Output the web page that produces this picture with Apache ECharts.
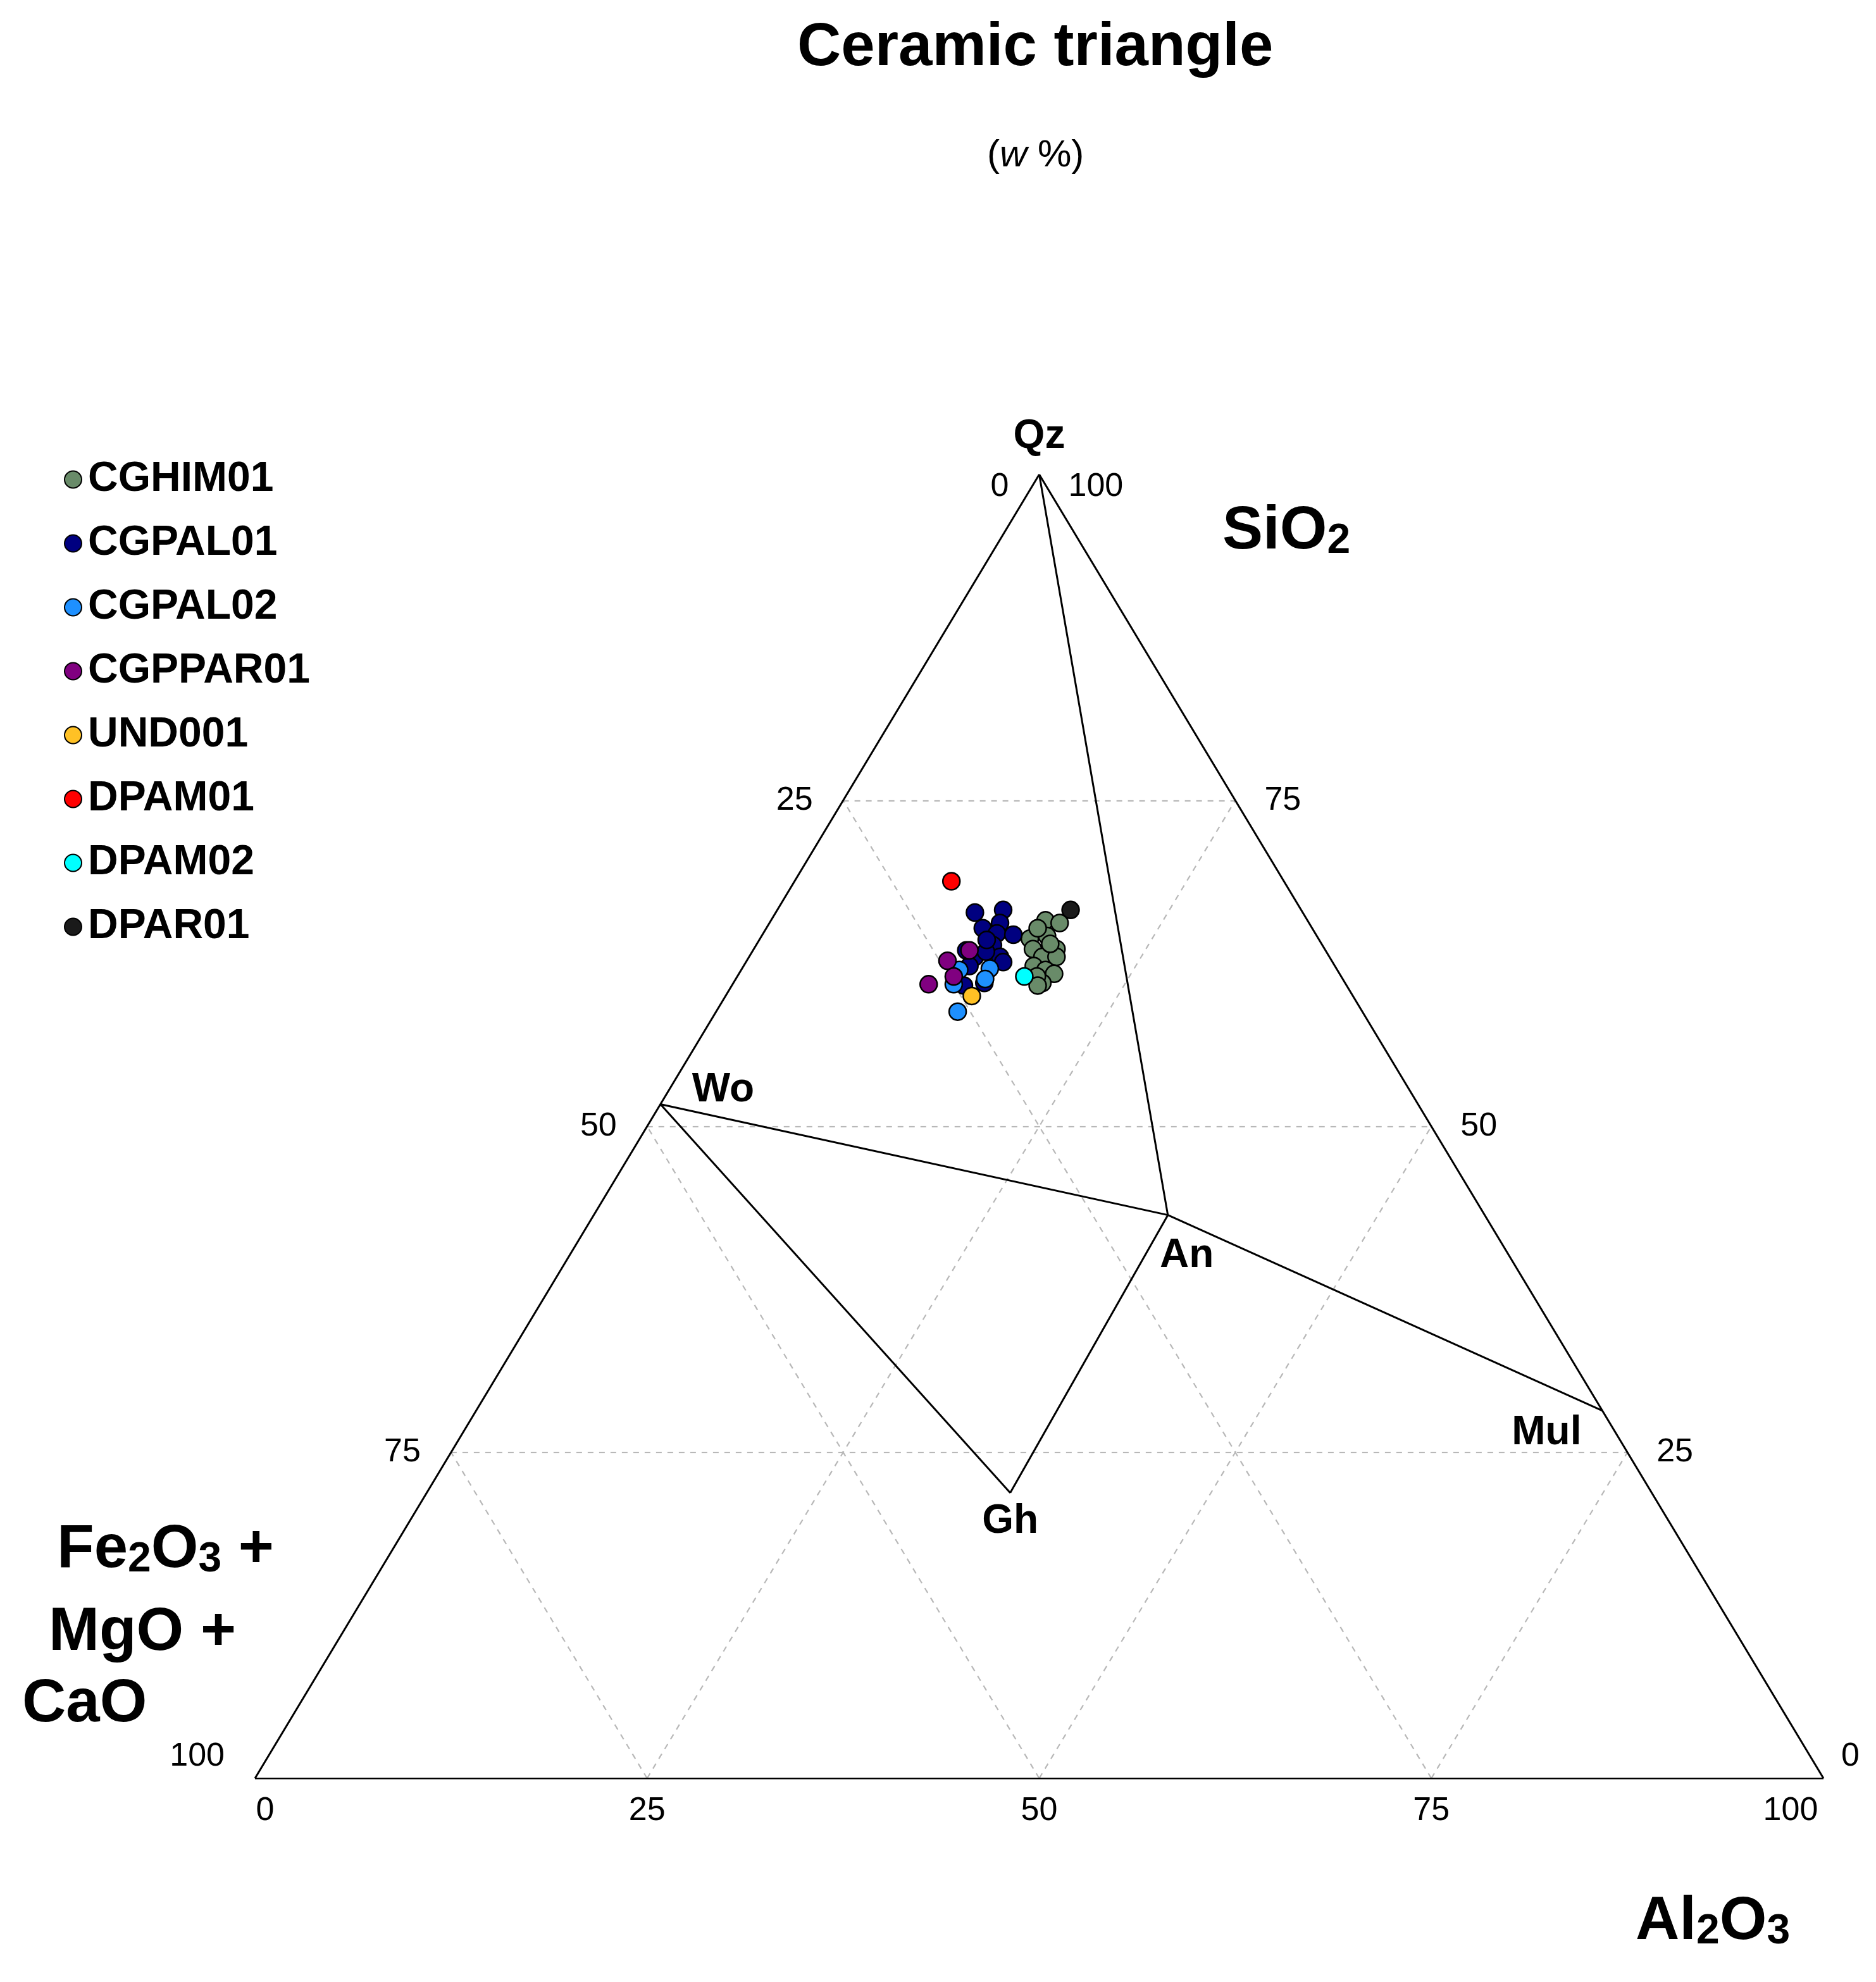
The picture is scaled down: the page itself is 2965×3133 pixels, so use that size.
<!DOCTYPE html>
<html>
<head>
<meta charset="utf-8">
<title>Ceramic triangle</title>
<script src="https://cdn.jsdelivr.net/npm/echarts@6/dist/echarts.min.js"></script>
<style>
  html, body { margin: 0; padding: 0; background: #fff; }
  #chart { width: 2965px; height: 3133px; }
</style>
</head>
<body>
<div id="chart"></div>
<script>
// sample groups, in legend order
var groups = ['CGHIM01', 'CGPAL01', 'CGPAL02', 'CGPPAR01', 'UND001', 'DPAM01', 'DPAM02', 'DPAR01'];
var groupColors = ['#698B69', '#000080', '#1E90FF', '#800080', '#FFC125', '#FF0000', '#00FFFF', '#1A1A1A'];

// compositions in w %: [SiO2, Al2O3, Fe2O3 + MgO + CaO]
var CGHIM01 = [
  [65.8, 17.5, 16.7], [65.6, 18.5, 15.9], [64.4, 17.2, 18.4], [64.6, 18.2, 17.2],
  [63.6, 19.3, 17.1], [63.6, 17.8, 18.6], [63.0, 18.7, 18.3], [63.0, 19.6, 17.4],
  [62.3, 18.5, 19.2], [62.0, 19.4, 18.6], [61.7, 20.1, 18.2], [61.0, 19.7, 19.3],
  [61.5, 19.1, 19.4], [64.0, 18.7, 17.3], [65.2, 17.3, 17.5], [60.8, 19.5, 19.7]
];
var CGPAL01 = [
  [66.4, 12.7, 20.9], [66.6, 14.4, 19.0], [65.2, 13.8, 21.0], [65.6, 14.7, 19.7],
  [64.8, 14.9, 20.3], [64.7, 16.0, 19.3], [63.9, 15.1, 21.0], [63.0, 16.0, 21.0],
  [63.0, 14.4, 22.6], [62.3, 14.4, 23.3], [62.6, 16.4, 21.0], [63.4, 14.9, 21.7],
  [60.8, 14.8, 24.4], [61.0, 16.0, 23.0], [63.5, 13.6, 22.9], [64.3, 14.5, 21.2]
];
var CGPAL02 = [[58.8, 15.4, 25.8], [62.1, 15.8, 22.1], [61.3, 15.9, 22.8], [60.9, 14.1, 25.0], [62.0, 13.9, 24.1]];
var CGPPAR01 = [[63.5, 13.8, 22.7], [62.7, 12.8, 24.5], [61.5, 13.8, 24.7], [60.9, 12.5, 26.6]];
var UND001 = [[60.0, 15.7, 24.3]];
var DPAM01 = [[68.8, 10.0, 21.2]];
var DPAM02 = [[61.5, 18.3, 20.2]];
var DPAR01 = [[66.6, 18.7, 14.7]];
var groupData = [CGHIM01, CGPAL01, CGPAL02, CGPPAR01, UND001, DPAM01, DPAM02, DPAR01];

// reference phases (w %)
var mineralNames = ['Qz', 'Wo', 'An', 'Gh', 'Mul'];
var mineralSiO2 = [100, 51.7, 43.2, 21.9, 28.2];
var mineralAl2O3 = [0, 0, 36.6, 37.2, 71.8];
var phaseLinks = [['Qz', 'An'], ['Wo', 'An'], ['An', 'Mul'], ['Wo', 'Gh'], ['Gh', 'An']];

// ticks
var tickValues = [0, 25, 50, 75, 100];
var gridValues = [25, 50, 75];

var FONT = '"Liberation Sans", Arial, sans-serif';

// ternary -> cartesian (x = Al2O3 + SiO2/2, y = SiO2)
function toXY(si, al, fmc) {
  var s = si + al + fmc;
  si = si / s * 100;
  al = al / s * 100;
  return [al + si / 2, si];
}

function mineralXY(name) {
  var i = mineralNames.indexOf(name);
  return toXY(mineralSiO2[i], mineralAl2O3[i], 100 - mineralSiO2[i] - mineralAl2O3[i]);
}

// dashed grid
var gridLines = [];
gridValues.forEach(function (v) {
  gridLines.push({ coords: [toXY(v, 0, 100 - v), toXY(v, 100 - v, 0)] });
  gridLines.push({ coords: [toXY(0, v, 100 - v), toXY(100 - v, v, 0)] });
  gridLines.push({ coords: [toXY(0, 100 - v, v), toXY(100 - v, 0, v)] });
});

var edgeLines = [
  { coords: [toXY(100, 0, 0), toXY(0, 0, 100)] },
  { coords: [toXY(0, 0, 100), toXY(0, 100, 0)] },
  { coords: [toXY(0, 100, 0), toXY(100, 0, 0)] }
];

var phaseLines = phaseLinks.map(function (p) {
  return { coords: [mineralXY(p[0]), mineralXY(p[1])] };
});

// tick labels along the three sides
function tickLabel(v, pos, dist, off) {
  return {
    show: true, formatter: String(v), position: pos, distance: dist, offset: off,
    fontSize: 52, color: '#000', fontFamily: FONT, opacity: 1
  };
}
var leftTicks = tickValues.map(function (v) {
  var off = v === 0 ? [0, 20] : (v === 100 ? [0, -34] : [0, 0]);
  return { value: toXY(100 - v, 0, v), label: tickLabel(v, 'left', 48, off) };
});
var rightTicks = tickValues.map(function (v) {
  var off = v === 100 ? [0, 20] : (v === 0 ? [-18, -34] : [0, 0]);
  return { value: toXY(v, 100 - v, 0), label: tickLabel(v, 'right', 46, off) };
});
var bottomTicks = tickValues.map(function (v) {
  var off = v === 0 ? [16, 0] : (v === 100 ? [-52, 0] : [0, 0]);
  return { value: toXY(0, v, 100 - v), label: tickLabel(v, 'bottom', 26, off) };
});

var mineralLabel = {
  Qz: { position: 'top', distance: 28 },
  Wo: { position: 'right', distance: 50, offset: [0, -22] },
  An: { position: 'bottom', distance: 33, offset: [30, 0] },
  Gh: { position: 'bottom', distance: 14 },
  Mul: { position: 'left', distance: 33, offset: [0, 36] }
};
var mineralPoints = mineralNames.map(function (n) {
  var l = mineralLabel[n];
  return {
    value: mineralXY(n),
    label: {
      show: true, formatter: n, position: l.position, distance: l.distance, offset: l.offset || [0, 0],
      fontSize: 64, fontWeight: 'bold', color: '#000', fontFamily: FONT, opacity: 1
    }
  };
});

var series = [
  {
    type: 'lines', coordinateSystem: 'cartesian2d', silent: true, z: 1,
    lineStyle: { color: '#b8b8b8', width: 2.2, type: [9, 9], opacity: 1 },
    data: gridLines
  },
  {
    type: 'lines', coordinateSystem: 'cartesian2d', silent: true, z: 2,
    lineStyle: { color: '#000', width: 3, opacity: 1 },
    data: edgeLines.concat(phaseLines)
  },
  {
    type: 'scatter', symbolSize: 0, silent: true, z: 3,
    itemStyle: { opacity: 1 },
    data: mineralPoints.concat(leftTicks, rightTicks, bottomTicks)
  }
];

groups.forEach(function (g, i) {
  series.push({
    name: g,
    type: 'scatter',
    z: 5,
    symbol: 'circle',
    symbolSize: 27,
    itemStyle: { color: groupColors[i], borderColor: '#000', borderWidth: 2.5, opacity: 1 },
    data: groupData[i].map(function (c) { return toXY(c[0], c[1], c[2]); })
  });
});

var bigText = { fontSize: 96, fontWeight: 'bold', lineHeight: 96, fontFamily: FONT, color: '#000' };
var subText = { fontSize: 66, fontWeight: 'bold', lineHeight: 42, verticalAlign: 'bottom', fontFamily: FONT, color: '#000' };
function formulaTitle(text, left, top) {
  return {
    text: text, left: left, top: top, padding: 0,
    textStyle: Object.assign({}, bigText, { rich: { b: bigText, s: subText } })
  };
}

var chart = echarts.init(document.getElementById('chart'));
chart.setOption({
  backgroundColor: '#fff',
  animation: false,
  title: [
    { text: 'Ceramic triangle', left: 1260, top: 29, padding: 0, textStyle: bigText },
    {
      text: '({i|w} %)', left: 1560, top: 216, padding: 0,
      textStyle: {
        fontSize: 60, fontWeight: 'normal', lineHeight: 60, fontFamily: FONT, color: '#000',
        rich: { i: { fontSize: 60, fontStyle: 'italic', lineHeight: 60, fontFamily: FONT, color: '#000' } }
      }
    },
    formulaTitle('{b|SiO}{s|2}', 1932, 793),
    formulaTitle('{b|Al}{s|2}{b|O}{s|3}', 2585, 2991),
    formulaTitle('{b|Fe}{s|2}{b|O}{s|3}{b| +}', 90, 2403),
    formulaTitle('{b|MgO +}', 77, 2534),
    formulaTitle('{b|CaO}', 35, 2647)
  ],
  legend: {
    orient: 'vertical', left: 96, top: 718,
    itemWidth: 27, itemHeight: 27, itemGap: 31, icon: 'circle',
    textStyle: { fontSize: 66, fontWeight: 'bold', fontFamily: FONT, color: '#000', lineHeight: 70, padding: [0, 0, 0, 5] },
    data: groups
  },
  grid: { left: 403, top: 750, width: 2479, height: 2061 },
  xAxis: { type: 'value', min: 0, max: 100, show: false },
  yAxis: { type: 'value', min: 0, max: 100, show: false },
  series: series
});
</script>
</body>
</html>
